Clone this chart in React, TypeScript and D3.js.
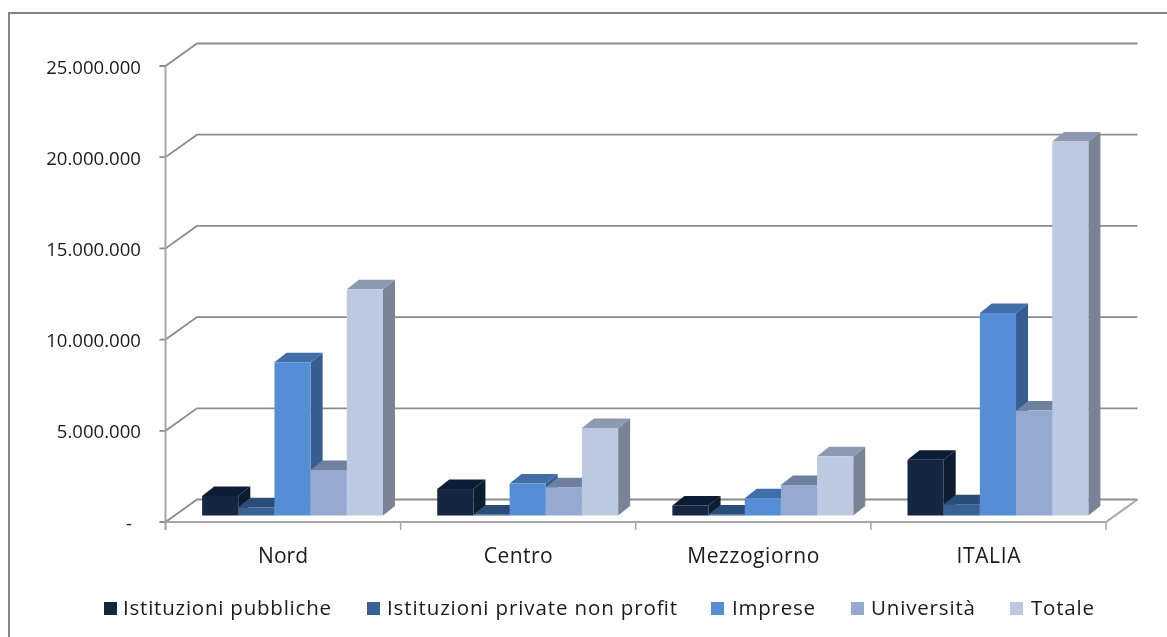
import React from "react";
import * as d3 from "d3";

const categories = ["Nord", "Centro", "Mezzogiorno", "ITALIA"];
const seriesNames = ["Istituzioni pubbliche", "Istituzioni private non profit", "Imprese", "Università", "Totale"];
const pubbliche = [1070000, 1450000, 550000, 3050000];
const privateNonProfit = [450000, 60000, 60000, 620000];
const imprese = [8400000, 1750000, 950000, 11100000];
const universita = [2500000, 1550000, 1670000, 5750000];
const totale = [12400000, 4800000, 3250000, 20500000];
const seriesValues = [pubbliche, privateNonProfit, imprese, universita, totale];
const frontColors = ["#12263f", "#376092", "#558ed5", "#95a9d1", "#bdc9e1"];
const topColors = ["#0d1e35", "#2c4e78", "#3f6ea8", "#70809f", "#8d99b0"];
const sideColors = ["#0b1a2e", "#2c4e78", "#365f91", "#70809f", "#7a8296"];
const yTicks = [0, 5000000, 10000000, 15000000, 20000000, 25000000];
const legendSwatchX = [104, 367, 711, 851, 1010];
const legendTextX = [123, 387, 732, 871, 1031];
const legendTextWidths = [208, 290, 83, 104, 63];
const categoryTextWidths = [50, 69, 132, 64];

const FONT = "'Open Sans', 'Noto Sans', sans-serif";
const GRID = "#8c8c8c";
const left = 165.5, right = 1106, floorY = 522, topY = 66;
const wallDx = 31.5, wallDy = 22.5;
const barDx = 9.5, barDy = 6.5, depthX = 12, depthY = 9.5;

const y = d3.scaleLinear().domain([0, 25000000]).range([floorY, topY]);
const x0 = d3.scaleBand<string>().domain(categories).range([left, right]);
const x1 = d3.scaleBand<string>().domain(seriesNames).range([0, x0.bandwidth()]).paddingInner(0).paddingOuter(0.75);
const locale = d3.formatLocale({ decimal: ",", thousands: ".", grouping: [3], currency: ["", "€"] });
const fmt = (v: number) => (v === 0 ? "-" : locale.format(",d")(v));

export default function App() {
  return (
    <svg width={1167} height={637} style={{ position: "absolute", left: 0, top: 0, background: "#fff" }} fontFamily={FONT}>
      <defs>
        <filter id="soft" x="0" y="0" width="1" height="1" filterUnits="objectBoundingBox">
          <feGaussianBlur stdDeviation="0.45" />
        </filter>
      </defs>
      <rect width={1167} height={637} fill="#fff" />
      <g filter="url(#soft)">
        <rect width={1167} height={637} fill="#fff" />
        <path d="M9 637V13H1167" fill="none" stroke="#868686" strokeWidth={2} />
        {yTicks.map((t) => (
          <g key={t}>
            <path
              d={`M${left - 6} ${y(t)}H${left}L${left + wallDx} ${y(t) - wallDy}H${right + wallDx}`}
              fill="none" stroke={GRID} strokeWidth={1.8}
            />
            <text x={t === 0 ? 132 : 141} y={y(t) + 7.5} textAnchor="end" fontSize={18.6} fill="#1a1a1a">{fmt(t)}</text>
          </g>
        ))}
        <path
          d={`M${left} ${topY}V${floorY + 8}M${left} ${floorY}H${right}L${right + wallDx} ${floorY - wallDy}`}
          fill="none" stroke="#a6a6a6" strokeWidth={2}
        />
        {[...categories.map((c) => x0(c) as number), right].map((tx) => (
          <path key={tx} d={`M${tx} ${floorY}V${floorY + 8}`} stroke="#a6a6a6" strokeWidth={1.5} />
        ))}
        {categories.map((c, ci) => (
          <g key={c}>
            {seriesNames.map((s, si) => {
              const xa = (x0(c) as number) + (x1(s) as number) + barDx;
              const w = x1.bandwidth();
              const yb = floorY - barDy;
              const yt = y(seriesValues[si][ci]) - barDy;
              return (
                <g key={s}>
                  <path d={`M${xa + w} ${yb}V${yt}l${depthX} ${-depthY}V${yb - depthY}Z`} fill={sideColors[si]} />
                  <path d={`M${xa} ${yt}l${depthX} ${-depthY}H${xa + w + depthX}l${-depthX} ${depthY}Z`} fill={topColors[si]} />
                  <rect x={xa} y={yt} width={w} height={yb - yt} fill={frontColors[si]} />
                </g>
              );
            })}
            <text
              x={(x0(c) as number) + x0.bandwidth() / 2} y={563} textAnchor="middle" fontSize={21} fill="#1a1a1a"
              textLength={categoryTextWidths[ci]} lengthAdjust="spacing"
            >{c}</text>
          </g>
        ))}
        {seriesNames.map((s, i) => (
          <g key={s}>
            <rect x={legendSwatchX[i]} y={602} width={13} height={13} fill={frontColors[i]} />
            <text
              x={legendTextX[i]} y={615} fontSize={20.5} fill="#1a1a1a"
              textLength={legendTextWidths[i]} lengthAdjust="spacing"
            >{s}</text>
          </g>
        ))}
      </g>
    </svg>
  );
}
